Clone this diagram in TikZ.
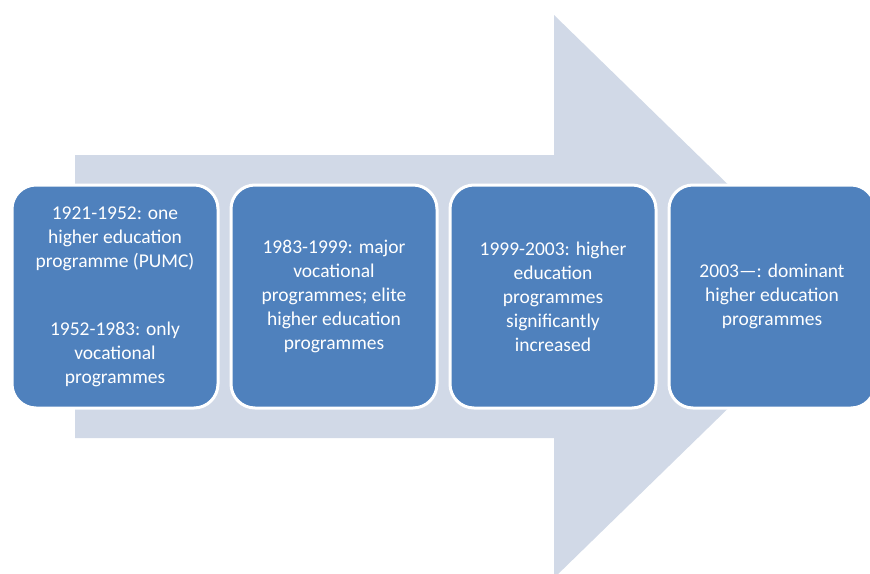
\documentclass[tikz,border=0pt]{standalone}
\usepackage{fontspec}
\setmainfont{Carlito}
\usepackage{tikz}

\definecolor{azuletapa}{RGB}{79,129,189}
\definecolor{azulseta}{RGB}{209,217,231}

\begin{document}
\begin{tikzpicture}[x=1pt, y=-1pt,
    etapa/.style={draw=white, line width=3pt, fill=azuletapa, rounded corners=24pt,
        minimum width=206pt, minimum height=223pt, inner sep=0pt,
        text=white, align=center, font=\fontsize{19.5}{24}\selectfont}]
    \useasboundingbox (0,0) rectangle (870,573);

    % seta larga ao fundo
    \fill[azulseta] (75,155) -- (554,155) -- (554,15) -- (843,296.5)
        -- (554,578) -- (554,438) -- (75,438) -- cycle;

    % etapas
    \node[etapa] (e1) at (115,296.5) {1921-1952: one\\higher education\\programme (PUMC)\\[44pt]1952-1983: only\\vocational\\programmes};
    \node[etapa] (e2) at (334,296.5) {1983-1999: major\\vocational\\programmes; elite\\higher education\\programmes};
    \node[etapa] (e3) at (553,296.5) {1999-2003: higher\\education\\programmes\\significantly\\increased};
    \node[etapa] (e4) at (772,296.5) {2003---: dominant\\higher education\\programmes};

\end{tikzpicture}
\end{document}
